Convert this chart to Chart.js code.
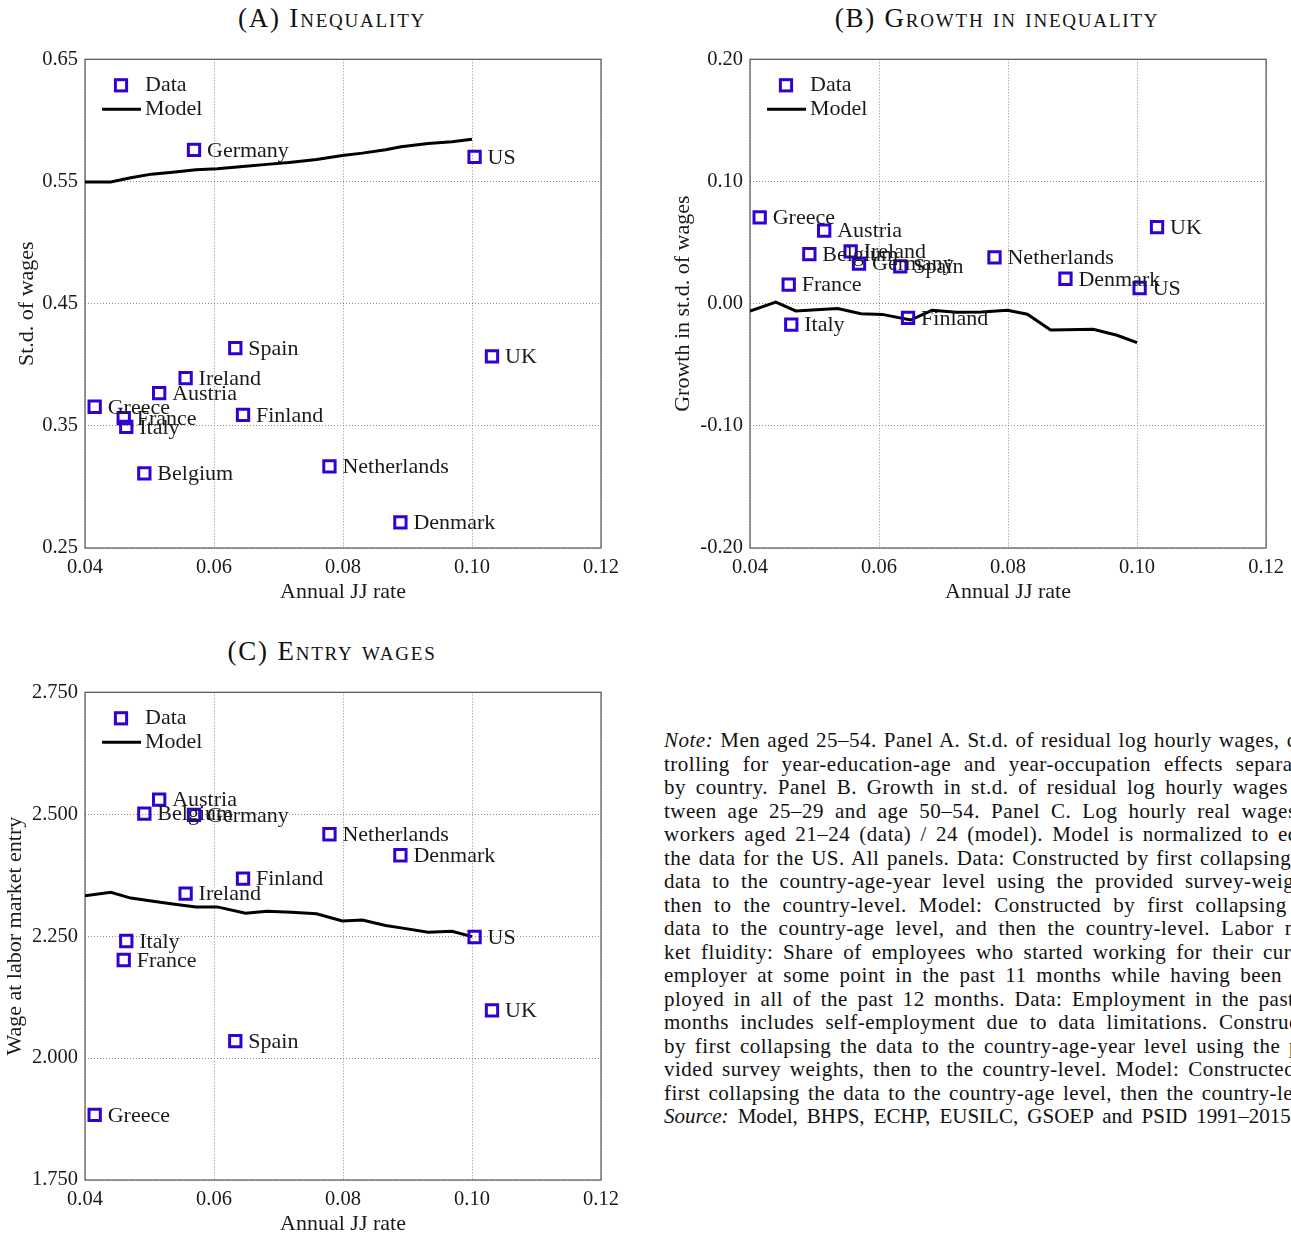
<!DOCTYPE html>
<html>
<head>
<meta charset="utf-8">
<script src="https://cdn.jsdelivr.net/npm/chart.js@4.4.0/dist/chart.umd.min.js"></script>
<style>
    body { margin: 0; width: 1291px; height: 1241px; overflow: hidden; background: #fff; position: relative; font-family: 'Liberation Serif', serif; color: #111; }
    canvas { position: absolute; }
    .ttl { position: absolute; font-variant: small-caps; font-size: 27px; letter-spacing: 1.8px; line-height: 1; white-space: nowrap; transform: translateX(-50%); }
    .note { position: absolute; left: 664px; top: 729px; font-size: 21px; line-height: 23.5px; letter-spacing: 0.5px; }
    .note div { width: 662px; height: 23.5px; overflow: hidden; text-align: justify; text-align-last: justify; }
    .note div.last { width: 632px; letter-spacing: 0; }
</style>
</head>
<body>

<div class="ttl" style="left:332px; top:5px;">(A) Inequality</div>
<div class="ttl" style="left:997px; top:5px;">(B) Growth in inequality</div>
<div class="ttl" style="left:332px; top:638px;">(C) Entry wages</div>

<canvas id="chartA" width="640" height="570" style="left:0; top:40px;"></canvas>
<canvas id="chartB" width="631" height="570" style="left:660px; top:40px;"></canvas>
<canvas id="chartC" width="640" height="568" style="left:0; top:673px;"></canvas>

<div class="note">
    <div><em>Note:</em> Men aged 25–54. Panel A. St.d. of residual log hourly wages, con-</div>
    <div>trolling for year-education-age and year-occupation effects separately</div>
    <div>by country. Panel B. Growth in st.d. of residual log hourly wages be-</div>
    <div>tween age 25–29 and age 50–54. Panel C. Log hourly real wages of</div>
    <div>workers aged 21–24 (data) / 24 (model). Model is normalized to equal</div>
    <div>the data for the US. All panels. Data: Constructed by first collapsing the</div>
    <div>data to the country-age-year level using the provided survey-weights,</div>
    <div>then to the country-level. Model: Constructed by first collapsing the</div>
    <div>data to the country-age level, and then the country-level. Labor mar-</div>
    <div>ket fluidity: Share of employees who started working for their current</div>
    <div>employer at some point in the past 11 months while having been em-</div>
    <div>ployed in all of the past 12 months. Data: Employment in the past 12</div>
    <div>months includes self-employment due to data limitations. Constructed</div>
    <div>by first collapsing the data to the country-age-year level using the pro-</div>
    <div>vided survey weights, then to the country-level. Model: Constructed by</div>
    <div>first collapsing the data to the country-age level, then the country-level.</div>
    <div class="last"><em>Source:</em> Model, BHPS, ECHP, EUSILC, GSOEP and PSID 1991–2015.</div>
</div>

<script>
// countries and their annual job-to-job rate (same x in every panel)
const countries = ['Austria', 'Belgium', 'Denmark', 'Finland', 'France', 'Germany', 'Greece',
    'Ireland', 'Italy', 'Netherlands', 'Spain', 'UK', 'US'];
const jjRate = [0.0515, 0.0492, 0.0889, 0.0645, 0.0460, 0.0569, 0.0415,
    0.0556, 0.0464, 0.0779, 0.0633, 0.1031, 0.1004];

// data, one value per country
const inequality = [0.3768, 0.3111, 0.2710, 0.3590, 0.3563, 0.5758, 0.3656,
    0.3891, 0.3492, 0.3168, 0.4136, 0.4068, 0.5701];
const growth = [0.0597, 0.0406, 0.0204, -0.0117, 0.0155, 0.0327, 0.0706,
    0.0428, -0.0172, 0.0379, 0.0305, 0.0627, 0.0128];
const entryWage = [2.5301, 2.5014, 2.4159, 2.3680, 2.2011, 2.4986, 1.8837,
    2.3372, 2.2401, 2.4590, 2.0349, 2.0978, 2.2483];

// model curves
const modelRate = [0.0400, 0.0440, 0.0471, 0.0503, 0.0536, 0.0572, 0.0605, 0.0649, 0.0682,
    0.0720, 0.0759, 0.0799, 0.0830, 0.0866, 0.0890, 0.0932, 0.0969, 0.1000];
const modelInequality = [0.5495, 0.5495, 0.5530, 0.5560, 0.5575, 0.5595, 0.5604, 0.5625, 0.5640,
    0.5658, 0.5680, 0.5712, 0.5732, 0.5760, 0.5785, 0.5810, 0.5826, 0.5846];
const modelGrowth = [-0.0060, 0.0013, -0.0060, -0.0050, -0.0039, -0.0082, -0.0088, -0.0134, -0.0055,
    -0.0070, -0.0068, -0.0055, -0.0087, -0.0216, -0.0214, -0.0210, -0.0259, -0.0319];
const modelEntryWage = [2.333, 2.340, 2.328, 2.322, 2.316, 2.310, 2.310, 2.297, 2.301,
    2.299, 2.296, 2.281, 2.283, 2.272, 2.267, 2.258, 2.260, 2.249];

// ticks
const xTicks = [0.04, 0.06, 0.08, 0.10, 0.12];
const xTickLabels = ['0.04', '0.06', '0.08', '0.10', '0.12'];
const yTicksA = [0.25, 0.35, 0.45, 0.55, 0.65];
const yTickLabelsA = ['0.25', '0.35', '0.45', '0.55', '0.65'];
const yTicksB = [-0.2, -0.1, 0, 0.1, 0.2];
const yTickLabelsB = ['-0.20', '-0.10', '0.00', '0.10', '0.20'];
const yTicksC = [1.75, 2.0, 2.25, 2.5, 2.75];
const yTickLabelsC = ['1.750', '2.000', '2.250', '2.500', '2.750'];

const BLUE = '#3300d4';
const INK = '#1a1a1a';
const tickFont = { family: 'Liberation Serif', size: 20.5 };
const textFont = { family: 'Liberation Serif', size: 22 };

// box around plot area
const frame = {
    id: 'frame',
    beforeDatasetsDraw(chart) {
        const { ctx, chartArea: a } = chart;
        ctx.save();
        ctx.strokeStyle = '#555';
        ctx.lineWidth = 1.2;
        ctx.strokeRect(a.left, a.top, a.right - a.left, a.bottom - a.top);
        ctx.restore();
    }
};

// country names next to markers
const countryLabels = {
    id: 'countryLabels',
    afterDatasetsDraw(chart) {
        const { ctx } = chart;
        const meta = chart.getDatasetMeta(0);
        ctx.save();
        ctx.font = '22px "Liberation Serif"';
        ctx.fillStyle = INK;
        ctx.textBaseline = 'middle';
        meta.data.forEach((el, i) => {
            ctx.fillText(countries[i], el.x + 13, el.y + 1);
        });
        ctx.restore();
    }
};

// legend inside the top-left corner
const legendBox = {
    id: 'legendBox',
    afterDatasetsDraw(chart) {
        const { ctx, chartArea: a } = chart;
        const ds = chart.data.datasets;
        ctx.save();
        ctx.strokeStyle = BLUE;
        ctx.lineWidth = 3;
        ctx.strokeRect(a.left + 36 - 5.6, a.top + 26 - 5.6, 11.2, 11.2);
        ctx.strokeStyle = '#000';
        ctx.lineWidth = 3;
        ctx.beginPath();
        ctx.moveTo(a.left + 17, a.top + 50);
        ctx.lineTo(a.left + 56, a.top + 50);
        ctx.stroke();
        ctx.font = '22px "Liberation Serif"';
        ctx.fillStyle = INK;
        ctx.textBaseline = 'middle';
        ctx.fillText(ds[0].label, a.left + 60, a.top + 26);
        ctx.fillText(ds[1].label, a.left + 60, a.top + 50);
        ctx.restore();
    }
};

function makePanel(id, dataY, modelY, yTicks, yLabels, yTitle, box) {
    const points = jjRate.map((x, i) => ({ x: x, y: dataY[i] }));
    const model = modelRate.map((x, i) => ({ x: x, y: modelY[i] }));

    new Chart(document.getElementById(id), {
        type: 'scatter',
        data: {
            datasets: [{
                label: 'Data',
                data: points,
                pointStyle: 'rect',
                pointRadius: 8,
                borderWidth: 3,
                borderColor: BLUE,
                backgroundColor: 'rgba(0,0,0,0)',
                order: 0
            }, {
                label: 'Model',
                type: 'line',
                data: model,
                borderColor: '#000',
                borderWidth: 3,
                pointRadius: 0,
                tension: 0,
                fill: false,
                order: 1
            }]
        },
        options: {
            responsive: false,
            animation: false,
            events: [],
            layout: { padding: { top: box.top, right: box.right, left: 0, bottom: 0 } },
            plugins: { legend: { display: false }, tooltip: { enabled: false } },
            scales: {
                x: {
                    type: 'linear',
                    min: 0.04,
                    max: 0.12,
                    afterBuildTicks: s => { s.ticks = xTicks.map(v => ({ value: v })); },
                    afterFit: s => { s.height = box.xh; },
                    ticks: {
                        autoSkip: false, maxRotation: 0, padding: 7,
                        font: tickFont, color: INK,
                        callback: (v, i) => xTickLabels[i]
                    },
                    grid: { color: '#8c8c8c', lineWidth: 1, drawTicks: false },
                    border: { display: false, dash: [1, 2] },
                    title: {
                        display: true, text: 'Annual JJ rate', font: textFont, color: INK,
                        padding: { top: 0, bottom: box.xtp }
                    }
                },
                y: {
                    type: 'linear',
                    min: yTicks[0],
                    max: yTicks[yTicks.length - 1],
                    afterBuildTicks: s => { s.ticks = yTicks.map(v => ({ value: v })); },
                    afterFit: s => { s.width = box.yw; },
                    ticks: {
                        autoSkip: false, padding: 7,
                        font: tickFont, color: INK,
                        callback: (v, i) => yLabels[i]
                    },
                    grid: { color: '#8c8c8c', lineWidth: 1, drawTicks: false },
                    border: { display: false, dash: [1, 2] },
                    title: {
                        display: true, text: yTitle, font: textFont, color: INK,
                        padding: { top: box.ytp, bottom: 0 }
                    }
                }
            }
        },
        plugins: [frame, countryLabels, legendBox]
    });
}

makePanel('chartA', inequality, modelInequality, yTicksA, yTickLabelsA, 'St.d. of wages',
    { top: 18, right: 39, xh: 62, yw: 85, xtp: 5, ytp: 14 });
makePanel('chartB', growth, modelGrowth, yTicksB, yTickLabelsB, 'Growth in st.d. of wages',
    { top: 18, right: 24, xh: 62, yw: 90, xtp: 5, ytp: 10 });
makePanel('chartC', entryWage, modelEntryWage, yTicksC, yTickLabelsC, 'Wage at labor market entry',
    { top: 18, right: 39, xh: 61, yw: 85, xtp: 4, ytp: 2 });
</script>
</body>
</html>
